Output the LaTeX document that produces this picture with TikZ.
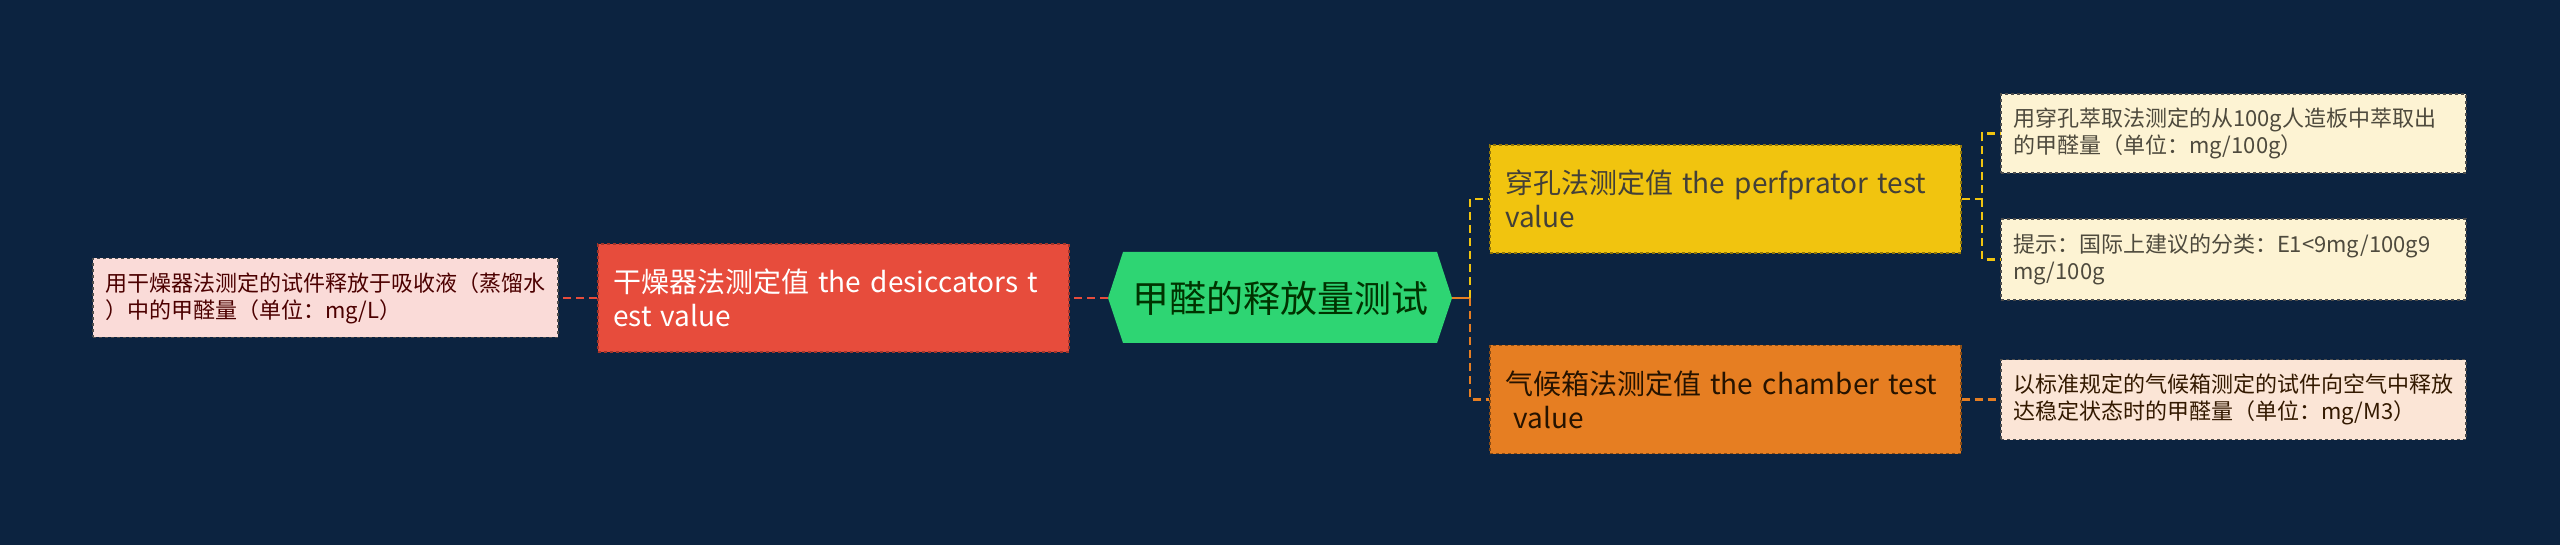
\documentclass[tikz,border=0pt]{standalone}
\usepackage{fontspec}
\setmainfont{Noto Sans CJK SC}
\usetikzlibrary{positioning, calc}

\definecolor{bgnavy}{HTML}{0C2340}
\definecolor{rootgreen}{HTML}{2ED573}
\definecolor{desicred}{HTML}{E74C3C}
\definecolor{perfyellow}{HTML}{F1C40F}
\definecolor{chamborange}{HTML}{E67E22}
\definecolor{leafpink}{HTML}{FADBD8}
\definecolor{leafcream}{HTML}{FDF3D3}
\definecolor{leafpeach}{HTML}{FBE5D6}

\tikzset{
	branch/.style={draw, dashed, line width=1.2pt, text width=441pt, inner xsep=15pt, align=left,
		minimum height=108pt, font=\fontsize{28}{34}\selectfont},
	leaf/.style={draw=black!70, dashed, line width=1.2pt, text width=441pt, inner xsep=12pt, align=left,
		minimum height=80pt, font=\fontsize{22}{27}\selectfont},
	link/.style={dashed, line width=2.5pt, dash pattern=on 8pt off 5pt}
}

\begin{document}
\begin{tikzpicture}[x=1pt, y=-1pt]
	\fill[bgnavy] (0,0) rectangle (2560,545);
	\useasboundingbox (0,0) rectangle (2560,545);

	% root hexagon
	\fill[rootgreen] (1108,298) -- (1123,252) -- (1437,252) -- (1452,298) -- (1437,343) -- (1123,343) -- cycle;
	\node[minimum width=344pt, minimum height=91pt, inner sep=0pt, text=black!80!green,
		font=\fontsize{37}{44}\selectfont] (root) at (1280,298) {甲醛的释放量测试};

	% branches
	\node[branch, fill=desicred, draw=desicred!70!black, text=white] (desic) at (833.5,298)
		{干燥器法测定值 the desiccators t\\est value};
	\node[branch, fill=perfyellow, draw=perfyellow!60!black, text=black!85!yellow] (perf) at (1725.5,199)
		{穿孔法测定值 the perfprator test\\value};
	\node[branch, fill=chamborange, draw=chamborange!60!black, text=black!85!orange] (chamb) at (1725.5,399.5)
		{气候箱法测定值 the chamber test\\\hspace*{.3em}value};

	% leaves
	\node[leaf, fill=leafpink, text=red!30!black, minimum height=79pt] (dleaf) at (325.5,298)
		{用干燥器法测定的试件释放于吸收液（蒸馏水\\）中的甲醛量（单位：mg/L）};
	\node[leaf, fill=leafcream, text=black!80!yellow, minimum height=79pt] (pleafa) at (2233.5,133.5)
		{用穿孔萃取法测定的从100g人造板中萃取出\\的甲醛量（单位：mg/100g）};
	\node[leaf, fill=leafcream, text=black!80!yellow, minimum height=81pt] (pleafb) at (2233.5,259.5)
		{提示：国际上建议的分类：E1<9mg/100g9\\mg/100g};
	\node[leaf, fill=leafpeach, text=black!80!orange] (cleaf) at (2233.5,399.5)
		{以标准规定的气候箱测定的试件向空气中释放\\达稳定状态时的甲醛量（单位：mg/M3）};

	% connectors
	\coordinate (rjoin) at (1470,298);
	\coordinate (pjoin) at (1982,199);
	\draw[link, desicred] (root.west) -- (desic.east);
	\draw[link, desicred] (desic.west) -- (dleaf.east);
	\draw[line width=2.5pt, chamborange] (root.east) -- (rjoin);
	\draw[link, perfyellow] (rjoin) |- (perf.west);
	\draw[link, chamborange] (rjoin) |- (chamb.west);
	\draw[link, perfyellow] (perf.east) -- (pjoin) |- (pleafa.west);
	\draw[link, perfyellow] (pjoin) |- (pleafb.west);
	\draw[link, chamborange] (chamb.east) -- (cleaf.west);
\end{tikzpicture}
\end{document}
